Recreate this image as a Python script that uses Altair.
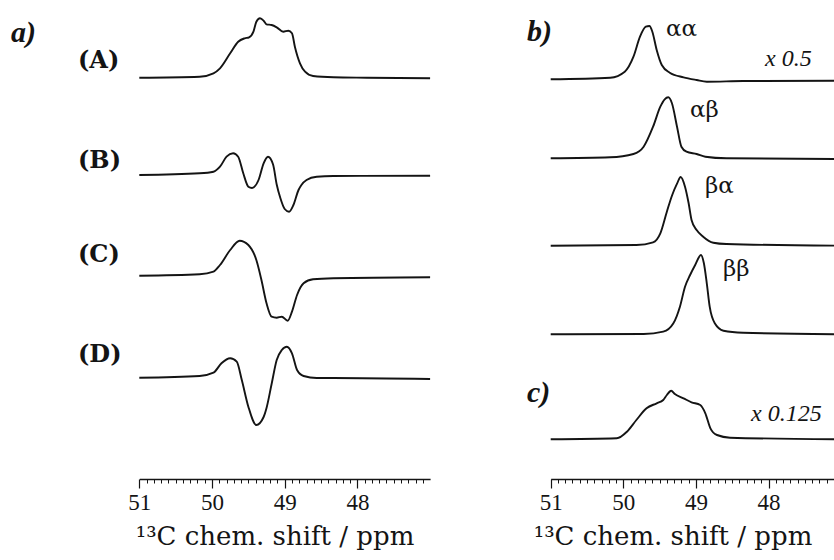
import altair as alt
import pandas as pd

# ---- spectra: chemical shift (ppm) and intensity (arbitrary units) ----
# panel a)
A_ppm = [51.0, 50.17, 49.98, 49.89, 49.75, 49.64, 49.55, 49.49, 49.43, 49.39, 49.34, 49.29, 49.25,
         49.18, 49.11, 49.02, 48.95, 48.90, 48.86, 48.79, 48.72, 48.61, 48.33, 47.87, 47.0]
A_int = [0.3, 1.3, 4.7, 9.7, 24.7, 36.3, 39.7, 40.7, 46.3, 56.3, 59.7, 57.3, 53.7,
         53.0, 50.7, 46.3, 47.3, 44.7, 31.3, 14.7, 6.3, 2.0, 0.7, 0.3, -0.3]

B_ppm = [51.0, 50.17, 49.98, 49.89, 49.80, 49.71, 49.64, 49.57, 49.50, 49.45, 49.36, 49.29, 49.23,
         49.16, 49.11, 49.06, 49.00, 48.94, 48.88, 48.81, 48.77, 48.70, 48.56, 48.33, 47.0]
B_int = [0.5, 2.2, 3.8, 8.8, 18.8, 22.2, 18.8, 2.2, -11.2, -12.5, -4.5, 12.2, 18.8,
         11.0, -9.0, -22.5, -33.5, -36.2, -29.5, -14.5, -9.5, -4.5, -1.2, -0.5, -0.2]

C_ppm = [51.0, 50.17, 49.98, 49.89, 49.75, 49.62, 49.50, 49.39, 49.32, 49.25, 49.18, 49.11, 49.04,
         48.96, 48.90, 48.83, 48.74, 48.61, 48.33, 47.0]
C_int = [0.8, 2.2, 4.8, 11.5, 26.5, 35.8, 31.5, 16.5, -3.5, -26.8, -40.2, -41.2, -40.2,
         -44.2, -35.2, -18.5, -6.8, -2.8, -1.8, -0.8]

D_ppm = [51.0, 50.17, 49.98, 49.87, 49.75, 49.66, 49.59, 49.50, 49.39, 49.29, 49.25, 49.18, 49.11,
         49.04, 48.97, 48.90, 48.83, 48.74, 48.56, 48.33, 47.0]
D_int = [0.3, 2.0, 5.3, 14.7, 19.7, 16.3, -2.0, -28.7, -47.0, -39.0, -30.0, -6.0, 18.0,
         28.0, 31.3, 24.7, 8.0, 2.0, 0.0, 0.0, -1.0]

# panel b)
aa_ppm = [51.0, 50.18, 49.98, 49.86, 49.77, 49.69, 49.64, 49.60, 49.54, 49.47, 49.36, 49.17,
          48.99, 48.85, 48.35, 47.0]
aa_int = [0.7, 2.3, 8.3, 23.3, 43.3, 53.3, 54.0, 48.3, 30.0, 15.0, 7.3, 2.7,
          0.0, -1.7, -1.0, -0.7]

ab_ppm = [51.0, 50.18, 49.86, 49.72, 49.59, 49.49, 49.43, 49.38, 49.33, 49.26, 49.20, 49.13,
          48.99, 48.87, 48.58, 47.0]
ab_int = [0.2, 1.2, 4.5, 11.8, 31.8, 51.8, 59.2, 61.2, 55.2, 31.8, 11.8, 6.8,
          4.5, 1.8, 0.2, -0.5]

ba_ppm = [51.0, 49.82, 49.59, 49.49, 49.40, 49.33, 49.26, 49.21, 49.15, 49.10, 49.06, 48.99,
          48.90, 48.76, 48.58, 47.0]
ba_int = [0.0, 0.7, 3.4, 12.4, 34.0, 50.0, 62.0, 68.7, 59.0, 42.4, 25.7, 15.7,
          9.0, 3.0, 1.7, 0.0]

bb_ppm = [51.0, 49.72, 49.45, 49.31, 49.22, 49.15, 49.08, 49.01, 48.93, 48.89, 48.85, 48.81,
          48.74, 48.62, 48.35, 47.0]
bb_int = [0.0, 0.3, 2.6, 11.0, 27.6, 47.6, 59.3, 69.3, 79.3, 71.0, 51.0, 27.6,
          11.0, 3.6, 1.6, 0.0]

# panel c)
c_ppm = [51.0, 50.09, 49.95, 49.82, 49.68, 49.54, 49.45, 49.40, 49.34, 49.29, 49.17, 49.06,
         48.94, 48.87, 48.80, 48.71, 48.53, 47.0]
c_int = [0.0, 1.0, 7.6, 19.3, 31.0, 36.0, 39.3, 44.3, 48.6, 45.3, 41.0, 37.0,
         34.3, 26.0, 11.0, 4.3, 1.6, 0.0]

# axis ticks
major_ticks = [51, 50, 49, 48]
minor_ticks = [round(51 - 0.1 * i, 1) for i in range(1, 40) if i % 10 != 0]

# ---- layout ----
W, H, BOTTOM = 834, 479, 81
LEFT_X = [139.3, 430.1]
RIGHT_X = [550.7, 841.1]
INK = "#141414"
SERIF = "Liberation Serif"
WIDE = "DejaVu Serif"
AXIS_TITLE = "\u00b9\u00b3C chem. shift / ppm"


def major_axis(title_x):
    return alt.Axis(
        orient="bottom", values=major_ticks, format="d", grid=False,
        domainColor=INK, domainWidth=1.3, tickColor=INK, tickWidth=1.2, tickSize=9,
        labelFont=SERIF, labelFontSize=23, labelColor=INK, labelPadding=3,
        labelFlush=False, labelOverlap=False,
        title=AXIS_TITLE, titleFont=WIDE, titleFontSize=26, titleFontWeight="normal",
        titleColor=INK, titleX=title_x, titleY=65, titleAlign="center",
        titleBaseline="alphabetic", titleAnchor="start",
    )


def minor_axis():
    return alt.Axis(
        orient="bottom", values=minor_ticks, grid=False, domain=False, labels=False,
        tickColor=INK, tickWidth=1.0, tickSize=4, title=None,
    )


def spectrum(ppm, inten, base, xrange, axis=None):
    df = pd.DataFrame({"ppm": ppm, "intensity": inten})
    return alt.Chart(df).mark_line(
        color=INK, strokeWidth=1.9, interpolate="monotone"
    ).encode(
        x=alt.X("ppm:Q", scale=alt.Scale(domain=[51, 47], range=xrange, nice=False, zero=False),
                axis=axis),
        y=alt.Y("intensity:Q",
                scale=alt.Scale(domain=[0, 100], range=[base, base - 100], nice=False, zero=False),
                axis=None),
    )


def label(text, x, y, size, font=WIDE, weight="normal", style="normal"):
    return alt.Chart(pd.DataFrame({"t": [text]})).mark_text(
        align="left", baseline="alphabetic", font=font, fontSize=size,
        fontWeight=weight, fontStyle=style, color=INK,
    ).encode(x=alt.value(x), y=alt.value(y), text="t:N")


layers = [
    spectrum(A_ppm, A_int, 78.0, LEFT_X, major_axis(274.5)),
    spectrum(B_ppm, B_int, 175.5, LEFT_X, minor_axis()),
    spectrum(C_ppm, C_int, 276.5, LEFT_X),
    spectrum(D_ppm, D_int, 378.0, LEFT_X),
    spectrum(aa_ppm, aa_int, 80.0, RIGHT_X, major_axis(672.5)),
    spectrum(ab_ppm, ab_int, 158.5, RIGHT_X, minor_axis()),
    spectrum(ba_ppm, ba_int, 245.7, RIGHT_X),
    spectrum(bb_ppm, bb_int, 334.3, RIGHT_X),
    spectrum(c_ppm, c_int, 439.3, RIGHT_X),
    # panel letters
    label("a)", 11, 42, 30, SERIF, "bold", "italic"),
    label("b)", 527, 41, 30, SERIF, "bold", "italic"),
    label("c)", 527, 402, 30, SERIF, "bold", "italic"),
    # spectrum tags
    label("(A)", 78, 68, 24, WIDE, "bold"),
    label("(B)", 78, 168, 24, WIDE, "bold"),
    label("(C)", 78, 262, 24, WIDE, "bold"),
    label("(D)", 78, 362, 24, WIDE, "bold"),
    label("\u03b1\u03b1", 666, 35.5, 23),
    label("\u03b1\u03b2", 690, 117, 23),
    label("\u03b2\u03b1", 705, 192.5, 23),
    label("\u03b2\u03b2", 723, 276, 23),
    label("x 0.5", 765, 66, 24, SERIF, "normal", "italic"),
    label("x 0.125", 751, 421, 24, SERIF, "normal", "italic"),
]

chart = alt.layer(*layers).resolve_scale(
    x="independent", y="independent"
).properties(
    width=W, height=H,
    autosize=alt.AutoSizeParams(type="none"),
    padding={"left": 0, "top": 0, "right": 0, "bottom": BOTTOM},
    background="white",
).configure_view(stroke=None)

chart.save("out.html", embed_options={"renderer": "svg", "actions": False})
